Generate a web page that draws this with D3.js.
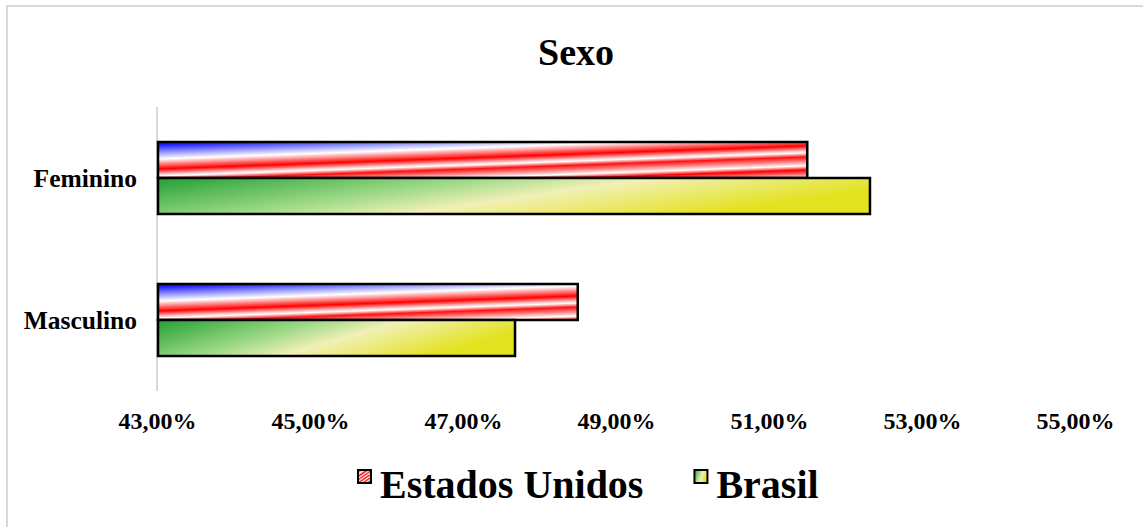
<!DOCTYPE html>
<html>
<head>
<meta charset="utf-8">
<script src="https://cdn.jsdelivr.net/npm/d3@7"></script>
<style>
  html, body { margin: 0; padding: 0; background: #fff; }
  svg { display: block; }
  text { font-family: "Liberation Serif", "Times New Roman", serif; font-weight: bold; fill: #000; }
</style>
</head>
<body>
<svg id="chart" width="1143" height="527"></svg>
<script>
// values (percent of each country's population)
const categories = ['Feminino', 'Masculino'];
const seriesNames = ['Estados Unidos', 'Brasil'];
const estadosUnidos = [51.5, 48.5];
const brasil = [52.32, 47.68];
const tickValues = [43, 45, 47, 49, 51, 53, 55];

const svg = d3.select('#chart');
const W = 1143, H = 527;

// chart frame (only left/top edges visible in the reference crop)
svg.append('rect')
  .attr('x', 7).attr('y', 6)
  .attr('width', W + 20).attr('height', H + 20)
  .attr('fill', '#fff')
  .attr('stroke', '#d9d9d9')
  .attr('stroke-width', 2);

const defs = svg.append('defs');

// stripe stops for the US fill: blue corner, then slanted red/white bands.
// offsets are in px measured along the gradient direction.
const usStops = [
  [0, '#0000ff'], [4, '#3030ff'], [17, '#ffffff'], [27, '#ff0000'],
  [32, '#ffc4c4'], [34, '#ffffff'], [38, '#ff1010'], [45, '#ffc4c4'],
  [47, '#ffffff'], [51, '#ff0000'], [58, '#ffc4c4'], [60, '#ffffff'],
  [64, '#ff0000'], [71, '#ffc4c4'], [73, '#ffffff'], [77, '#ff0000']
];
const usLen = 77;
const slant = 1 / 28;

// green -> pale -> yellow gradient (Brasil bars)
const brGrad = defs.append('linearGradient')
  .attr('id', 'grad-br')
  .attr('x1', 0).attr('y1', 0).attr('x2', 1).attr('y2', 0.35);
[
  [0, '#22a034'], [0.42, '#a2db8a'], [0.62, '#f1f0b6'], [1, '#e3e21e']
].forEach(([o, c]) => brGrad.append('stop').attr('offset', o).attr('stop-color', c));

// legend swatch version of the US fill (diagonal, bounding-box based)
const usLeg = defs.append('linearGradient')
  .attr('id', 'grad-us-leg')
  .attr('x1', 0).attr('y1', 0).attr('x2', 0.7).attr('y2', 1);
usStops.forEach(([o, c]) => usLeg.append('stop').attr('offset', o / usLen).attr('stop-color', c));

const x = d3.scaleLinear().domain([43, 55]).range([157, 1075]);
const y = d3.scaleBand().domain(categories).range([107, 391])
  .paddingInner(0.493).paddingOuter(0.2465);
const ySub = d3.scaleBand().domain(seriesNames).range([0, y.bandwidth()]);

// one user-space gradient per US bar so the stripes keep a fixed pixel slant.
// coordinates are local to the bar's (translated) group.
categories.forEach((c, i) => {
  const x0 = x(43) + 1;
  const y0 = ySub('Estados Unidos');
  const k = usLen / Math.sqrt(1 + slant * slant);
  const g = defs.append('linearGradient')
    .attr('id', `grad-us-${i}`)
    .attr('gradientUnits', 'userSpaceOnUse')
    .attr('x1', x0).attr('y1', y0)
    .attr('x2', x0 + k * slant).attr('y2', y0 + k);
  usStops.forEach(([o, col]) => g.append('stop').attr('offset', o / usLen).attr('stop-color', col));
});

const fillFor = (name, i) => (name === 'Brasil' ? 'url(#grad-br)' : `url(#grad-us-${i})`);

// title
svg.append('text')
  .attr('x', 576).attr('y', 65)
  .attr('text-anchor', 'middle')
  .attr('font-size', 38)
  .text('Sexo');

// vertical category axis line
svg.append('line')
  .attr('x1', x(43)).attr('x2', x(43))
  .attr('y1', 107).attr('y2', 391)
  .attr('stroke', '#d9d9d9')
  .attr('stroke-width', 2);

// bars
const rows = categories.map((c, i) => ({
  cat: c,
  vals: [
    { name: 'Estados Unidos', v: estadosUnidos[i], i },
    { name: 'Brasil', v: brasil[i], i }
  ]
}));

const groups = svg.append('g').selectAll('g')
  .data(rows)
  .join('g')
  .attr('transform', (d) => `translate(0,${y(d.cat)})`);

groups.selectAll('rect')
  .data((d) => d.vals)
  .join('rect')
  .attr('x', x(43) + 1)
  .attr('y', (d) => ySub(d.name))
  .attr('width', (d) => x(d.v) - x(43) - 1)
  .attr('height', ySub.bandwidth())
  .attr('fill', (d) => fillFor(d.name, d.i))
  .attr('stroke', '#000')
  .attr('stroke-width', 2.5);

// category labels
svg.append('g').selectAll('text')
  .data(categories)
  .join('text')
  .attr('x', 137)
  .attr('y', (d) => y(d) + y.bandwidth() / 2 + 9)
  .attr('text-anchor', 'end')
  .attr('font-size', 25.5)
  .text((d) => d);

// value axis labels (no line, no ticks)
const xAxis = d3.axisBottom(x)
  .tickValues(tickValues)
  .tickSize(0)
  .tickFormat((d) => d3.format('.2f')(d).replace('.', ',') + '%');

const ax = svg.append('g')
  .attr('transform', 'translate(0,412)')
  .call(xAxis);
ax.select('.domain').remove();
ax.selectAll('text')
  .attr('font-size', 24)
  .attr('font-family', null)
  .attr('dy', '0.71em')
  .attr('y', 0);

// legend
const legFill = { 'Estados Unidos': 'url(#grad-us-leg)', 'Brasil': 'url(#grad-br)' };
const legend = svg.append('g').attr('transform', 'translate(357,0)');
let lx = 0;
seriesNames.forEach((name) => {
  legend.append('rect')
    .attr('x', lx + 1).attr('y', 470)
    .attr('width', 13).attr('height', 13)
    .attr('fill', legFill[name])
    .attr('stroke', '#000')
    .attr('stroke-width', 2);
  const t = legend.append('text')
    .attr('x', lx + 23).attr('y', 498)
    .attr('font-size', 40)
    .text(name);
  lx += 23 + t.node().getComputedTextLength() + 50;
});
</script>
</body>
</html>
